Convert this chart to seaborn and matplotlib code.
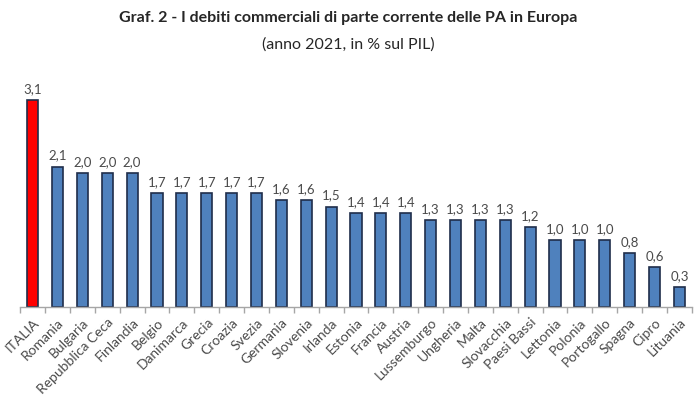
import numpy as np
import pandas as pd
import seaborn as sns
import matplotlib.pyplot as plt
from matplotlib.ticker import FixedLocator

paesi = ['ITALIA', 'Romania', 'Bulgaria', 'Repubblica Ceca', 'Finlandia', 'Belgio',
         'Danimarca', 'Grecia', 'Croazia', 'Svezia', 'Germania', 'Slovenia', 'Irlanda',
         'Estonia', 'Francia', 'Austria', 'Lussemburgo', 'Ungheria', 'Malta',
         'Slovacchia', 'Paesi Bassi', 'Lettonia', 'Polonia', 'Portogallo', 'Spagna',
         'Cipro', 'Lituania']
valori = [3.1, 2.1, 2.0, 2.0, 2.0, 1.7, 1.7, 1.7, 1.7, 1.7, 1.6, 1.6, 1.5,
          1.4, 1.4, 1.4, 1.3, 1.3, 1.3, 1.3, 1.2, 1.0, 1.0, 1.0, 0.8, 0.6, 0.3]

df = pd.DataFrame({'Paese': paesi, 'Debiti': valori})
colori = {p: ('#ff0000' if p == 'ITALIA' else '#4f81bd') for p in paesi}

sns.set_theme(style='white')
plt.rcParams['font.family'] = ['Lato', 'DejaVu Sans']
grigio = '#4a4a4a'

fig = plt.figure(figsize=(6.96, 4.02), dpi=100)
ax = fig.add_axes([0.029, 0.234, 0.965, 0.582])

sns.barplot(data=df, x='Paese', y='Debiti', hue='Paese', palette=colori,
            legend=False, width=0.45, edgecolor='#1f2d4a', linewidth=1.2,
            saturation=1, ax=ax)

# etichette dei valori
for i, v in enumerate(valori):
    ax.text(i, v + 0.09, f'{v:.1f}'.replace('.', ','), ha='center', va='bottom',
            fontsize=9.5, color=grigio)

ax.set_xlim(-0.5, len(paesi) - 0.5)
ax.set_ylim(0, 3.5)
ax.set_xlabel('')
ax.set_ylabel('')
ax.set_yticks([])
for s in ['top', 'right', 'left']:
    ax.spines[s].set_visible(False)
ax.spines['bottom'].set_color('#a6a6a6')
ax.spines['bottom'].set_linewidth(1)

ax.set_xticks(range(len(paesi)))
ax.set_xticklabels(paesi, rotation=45, ha='right', rotation_mode='anchor',
                   fontsize=10, color=grigio)
ax.tick_params(axis='x', which='major', length=0, pad=6)
ax.xaxis.set_minor_locator(FixedLocator(np.arange(-0.5, len(paesi), 1)))
ax.tick_params(axis='x', which='minor', length=4, color='#a6a6a6', width=1,
               bottom=True)

fig.text(0.5, 0.955, 'Graf. 2 - I debiti commerciali di parte corrente delle PA in Europa',
         ha='center', va='center', fontsize=11.5, fontweight='bold', color='#262626')
fig.text(0.5, 0.888, '(anno 2021, in % sul PIL)', ha='center', va='center',
         fontsize=11.5, color='#262626')

fig.savefig('out.png', dpi=100)
